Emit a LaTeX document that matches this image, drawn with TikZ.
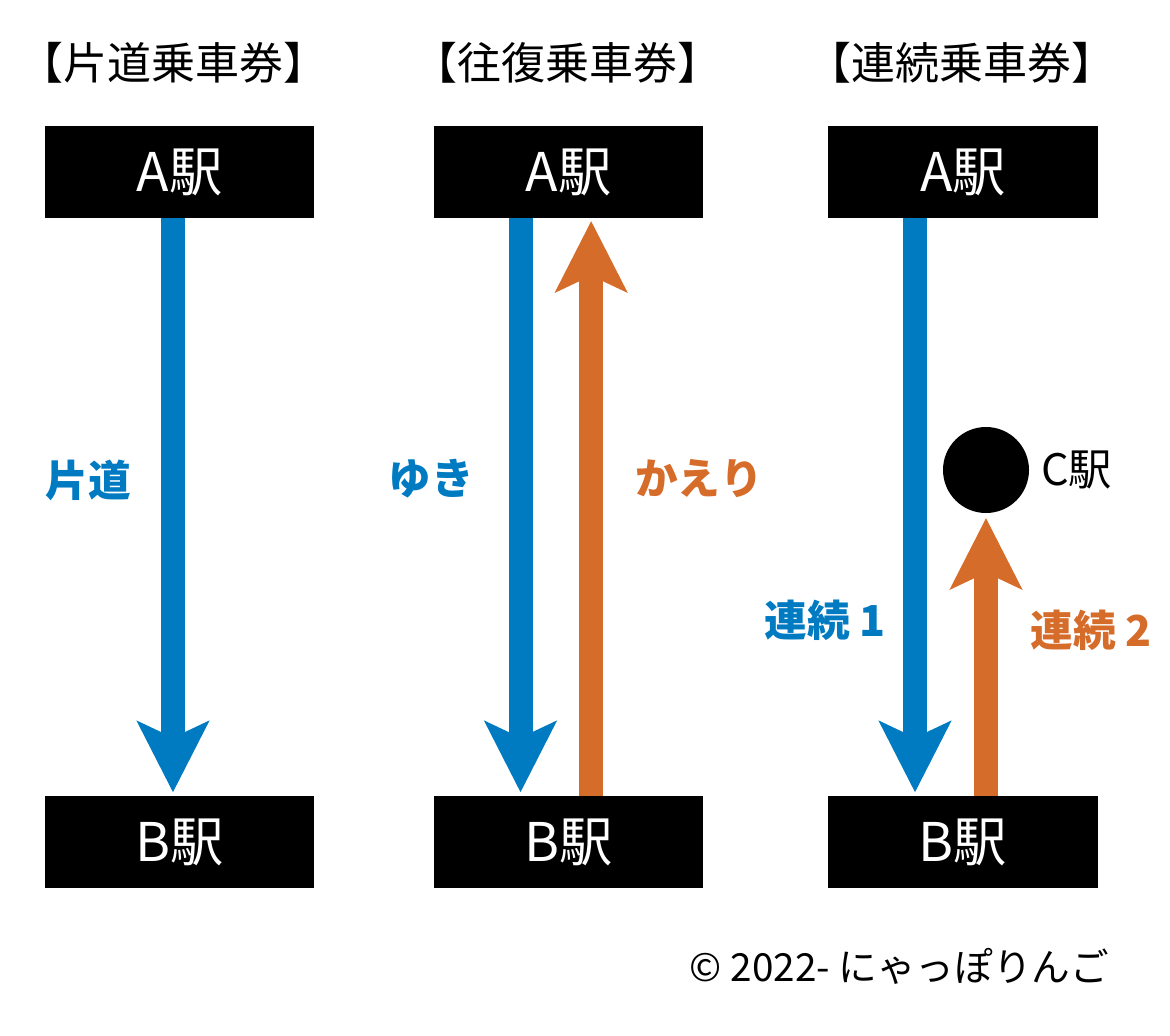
\documentclass[tikz,border=0pt]{standalone}
\usepackage{fontspec}
\setmainfont{Noto Sans CJK JP}
\usetikzlibrary{arrows.meta}
\definecolor{tblue}{RGB}{0,123,194}
\definecolor{torange}{RGB}{214,108,42}
\newcommand{\fsz}[1]{\fontsize{#1}{#1}\selectfont}
\tikzset{
  x=0.75pt,y=-0.75pt,
  station/.style={fill=black,text=white,minimum width=202pt,minimum height=69pt,inner sep=0pt,font=\fsz{40pt}},
  title/.style={inner sep=0pt,font=\fsz{33pt}},
  lab/.style={inner sep=0pt,font=\fsz{32pt}\bfseries},
  blue arrow/.style={draw=tblue,line width=18pt,-{Stealth[length=53pt,width=53pt,inset=12pt,fill=tblue]}},
  orange arrow/.style={draw=torange,line width=18pt,-{Stealth[length=53pt,width=53pt,inset=12pt,fill=torange]}}
}
\begin{document}
\begin{tikzpicture}
\useasboundingbox (0,0) rectangle (1170,1035);
\node[title] (t1) at (173.5,63) {【片道乗車券】};
\node[title] (t2) at (567.5,63) {【往復乗車券】};
\node[title] (t3) at (961.5,63) {【連続乗車券】};
\node[station] (a1) at (179.5,172) {A駅};
\node[station] (a2) at (568.5,172) {A駅};
\node[station] (a3) at (963,172) {A駅};
\node[station] (b1) at (179.5,842) {B駅};
\node[station] (b2) at (568.5,842) {B駅};
\node[station] (b3) at (963,842) {B駅};
\node[circle,fill=black,minimum size=64.5pt,inner sep=0pt] (c) at (986,470) {};
\node[inner sep=0pt,font=\fsz{32.5pt},anchor=west] (cl) at (1041,470) {C駅};
\draw[blue arrow,shorten >=2.5pt] ([xshift=-4.9pt]a1.south) -- ([xshift=-4.9pt]b1.north);
\draw[blue arrow,shorten >=2.5pt] ([xshift=-36pt]a2.south) -- ([xshift=-36pt]b2.north);
\draw[orange arrow,shorten >=2pt] ([xshift=17pt]b2.north) -- ([xshift=17pt]a2.south);
\draw[blue arrow,shorten >=2.5pt] ([xshift=-36pt]a3.south) -- ([xshift=-36pt]b3.north);
\draw[orange arrow,shorten >=3.5pt] ([xshift=17.25pt]b3.north) -- (c.south);
\node[lab,text=tblue] (l1) at (88,480) {片道};
\node[lab,text=tblue] (l2) at (431,479) {ゆき};
\node[lab,text=torange] (l3) at (699,479) {かえり};
\node[lab,text=tblue] (l4) at (825,620) {連続 1};
\node[lab,text=torange] (l5) at (1091,630) {連続 2};
\node[inner sep=0pt,font=\fsz{29pt},anchor=east] (cr) at (1109.5,966) {© 2022- にゃっぽりんご};
\end{tikzpicture}
\end{document}
